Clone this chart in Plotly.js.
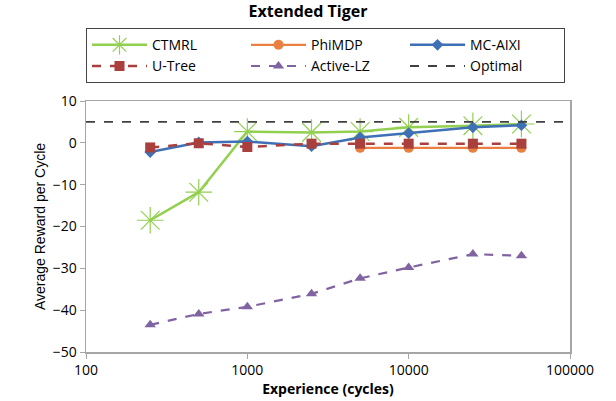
<!DOCTYPE html>
<html><head><meta charset="utf-8">
<script src="https://cdn.plot.ly/plotly-3.0.1.min.js"></script>
<style>body{margin:0;background:#fff}#c{width:616px;height:401px}</style>
</head><body><div id="c"></div>
<script>
const experience = [250, 500, 1000, 2500, 5000, 10000, 25000, 50000];
const ctmrl   = [-18.5, -11.8, 2.7, 2.5, 2.7, 3.7, 4.1, 4.5];
const mcaixi  = [-2.2, 0.1, 0.3, -0.8, 1.3, 2.3, 3.7, 4.2];
const utree   = [-1.1, -0.1, -1.0, -0.2, -0.2, -0.2, -0.2, -0.2];
const phiX    = [5000, 10000, 25000, 50000];
const phimdp  = [-1.2, -1.2, -1.2, -1.2];
const activeLZ= [-43.5, -40.9, -39.2, -36.1, -32.4, -29.8, -26.6, -27.0];
const optimalX = [100, 100000];
const optimalY = [5, 5];

const traces = [
  {name:'CTMRL', x:experience, y:ctmrl, mode:'lines+markers',
   line:{color:'#92D050', width:2.5},
   marker:{symbol:'asterisk-open', size:22, color:'#92D050', line:{color:'#92D050', width:1.2}}},
  {name:'PhiMDP', x:phiX, y:phimdp, mode:'lines+markers',
   line:{color:'#E98040', width:2.2},
   marker:{symbol:'circle', size:10, color:'#E98040'}},
  {name:'MC-AIXI', x:experience, y:mcaixi, mode:'lines+markers',
   line:{color:'#3F6FB5', width:2.5},
   marker:{symbol:'diamond', size:9, color:'#3F6FB5'}},
  {name:'U-Tree', x:experience, y:utree, mode:'lines+markers',
   line:{color:'#A9403E', width:2.5, dash:'dash'},
   marker:{symbol:'square', size:10, color:'#A9403E'}},
  {name:'Active-LZ', x:experience, y:activeLZ, mode:'lines+markers',
   line:{color:'#8064A2', width:2.2, dash:'dash'},
   marker:{symbol:'triangle-up', size:10, color:'#8064A2'}},
  {name:'Optimal', x:optimalX, y:optimalY, mode:'lines',
   line:{color:'#404040', width:1.8, dash:'dash'}}
];

const layout = {
  width:616, height:401,
  margin:{l:86, r:46, t:101, b:49},
  paper_bgcolor:'#fff', plot_bgcolor:'#fff',
  font:{family:'"Open Sans", "DejaVu Sans", sans-serif', size:14, color:'#000'},
  title:{text:'<b>Extended Tiger</b>', x:0.5, xanchor:'center', y:0.985, yanchor:'top',
         font:{family:'"Open Sans", sans-serif', size:16, color:'#000'}},
  showlegend:true,
  legend:{orientation:'h', x:0.0, xanchor:'left', y:1.29, yanchor:'top',
          bordercolor:'#444', borderwidth:1, bgcolor:'#fff',
          entrywidth:89, entrywidthmode:'pixels', tracegroupgap:0,
          font:{size:14, family:'"Open Sans", sans-serif'}, itemwidth:55},
  xaxis:{type:'log', range:[2,5], tickvals:[100,1000,10000,100000],
         ticktext:['100','1000','10000','100000'],
         showgrid:false, zeroline:false, showline:true, linecolor:'#a6a6a6', linewidth:1.5,
         mirror:true, ticks:'outside', ticklen:5, tickcolor:'#a6a6a6',
         tickfont:{size:14},
         title:{text:'<b>Experience (cycles)</b>', font:{size:14}, standoff:6}},
  yaxis:{range:[-50,10], tickvals:[-50,-40,-30,-20,-10,0,10],
         showgrid:false, zeroline:false, showline:true, linecolor:'#a6a6a6', linewidth:1.5,
         mirror:true, ticks:'outside', ticklen:5, tickcolor:'#a6a6a6',
         tickfont:{size:14},
         title:{text:'Average Reward per Cycle', font:{size:14, family:'"Liberation Sans Narrow", "Liberation Sans", sans-serif'}, standoff:4}}
};
Plotly.newPlot('c', traces, layout, {displayModeBar:false, staticPlot:true});
</script></body></html>
